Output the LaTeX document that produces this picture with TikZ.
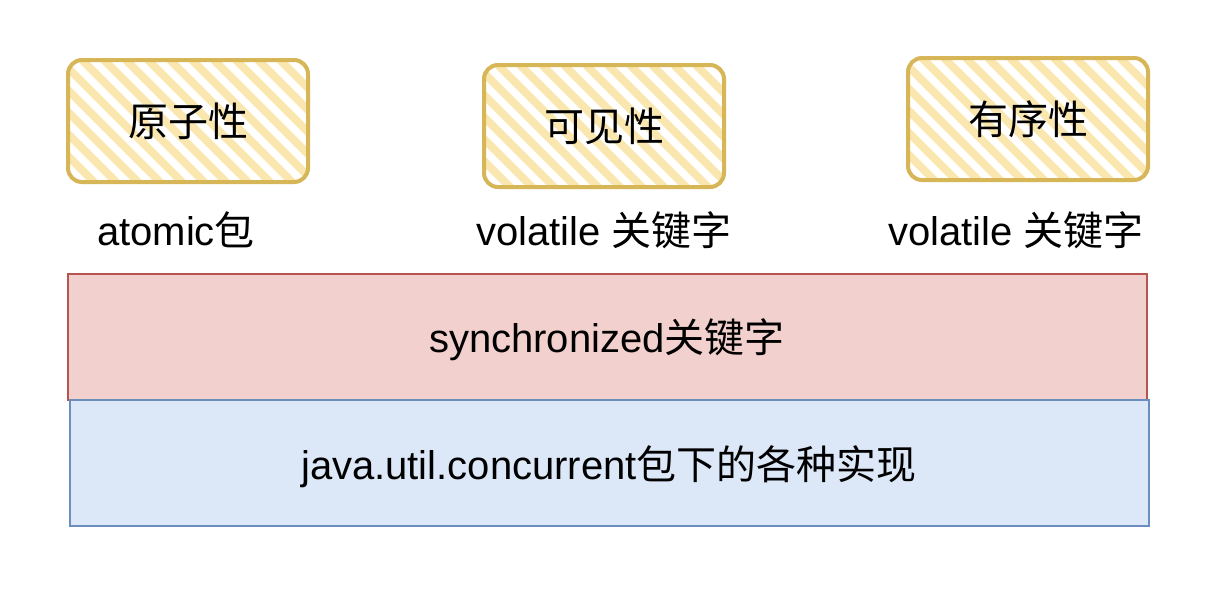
\documentclass[tikz,border=0pt]{standalone}
\usepackage{fontspec}
\setmainfont{Liberation Sans}
\newfontfamily\cjk{Noto Sans CJK SC}
\usetikzlibrary{positioning}
\definecolor{hatchyellow}{HTML}{FAE6AF}
\definecolor{sketchgold}{HTML}{D6B656}
\definecolor{redfill}{HTML}{F2D0CD}
\definecolor{reddraw}{HTML}{B85450}
\definecolor{bluefill}{HTML}{DCE7F8}
\definecolor{bluedraw}{HTML}{6C8EBF}
\tikzset{
	bigtext/.style={font=\fontsize{40}{46}\selectfont},
	propbox/.style={bigtext,draw=sketchgold,line width=4pt,rounded corners=14pt,
		minimum width=240pt,minimum height=122pt,
		path picture={\foreach \k in {-140,-118,...,260}
			\draw[hatchyellow,line width=8pt] ([xshift=\k pt]path picture bounding box.north west) -- ++(150pt,-150pt);}},
	layerbox/.style={bigtext,line width=1.6pt,minimum width=1079pt,minimum height=126pt},
}
\begin{document}
\begin{tikzpicture}[x=1pt,y=-1pt]
	\useasboundingbox[fill=white] (0,0) rectangle (1220,598);
	% three properties
	\node[propbox] (atom) at (188,121) {\cjk 原子性};
	\node[propbox] (visi) at (604,126) {\cjk 可见性};
	\node[propbox] (order) at (1028,119) {\cjk 有序性};
	\node[bigtext] (atomlbl) at (176,230) {atomic{\cjk 包}};
	\node[bigtext] (visilbl) at (604,230) {volatile {\cjk 关键字}};
	\node[bigtext] (orderlbl) at (1016,230) {volatile {\cjk 关键字}};
	% layers
	\node[layerbox,fill=redfill,draw=reddraw] (sync) at (607.5,337) {};
	\node[bigtext] at (607,340) {synchronized{\cjk 关键字}};
	\node[layerbox,fill=bluefill,draw=bluedraw] (juc) at (609.5,463) {};
	\node[bigtext] at (609,467) {java.util.concurrent{\cjk 包下的各种实现}};
\end{tikzpicture}
\end{document}
